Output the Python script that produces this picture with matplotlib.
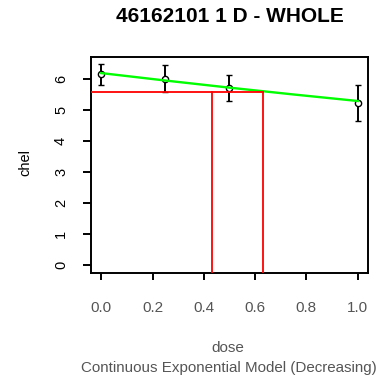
import matplotlib
matplotlib.use("Agg")
import matplotlib.pyplot as plt

plt.rcParams['font.family'] = ['Liberation Sans', 'DejaVu Sans']

# observed group means with confidence limits
dose = [0.0, 0.25, 0.5, 1.0]
mean_resp = [6.16, 6.02, 5.71, 5.25]
ci_half = [0.33, 0.43, 0.42, 0.58]

# fitted exponential model (decreasing)
model_dose = [0.0, 0.25, 0.5, 0.75, 1.0]
model_resp = [6.20, 5.96, 5.73, 5.51, 5.30]

# benchmark dose results
bmr_level = 5.6
bmd = 0.63
bmdl = 0.43

xticks = [0.0, 0.2, 0.4, 0.6, 0.8, 1.0]
xtick_labels = ["0.0", "0.2", "0.4", "0.6", "0.8", "1.0"]
yticks = [0, 1, 2, 3, 4, 5, 6]

W, H = 383, 377
fig = plt.figure(figsize=(W / 100, H / 100), dpi=100)
ax = fig.add_axes([0.2376, 0.275, 0.7232, 0.5746])

# R-style 4% padding around the data range
xlo, xhi = 0.0, 1.0
ylo, yhi = 0.0, 6.47
xpad = 0.04 * (xhi - xlo)
ypad = 0.04 * (yhi - ylo)
ax.set_xlim(xlo - xpad, xhi + xpad)
ax.set_ylim(ylo - ypad, yhi + ypad)

ax.errorbar(dose, mean_resp, yerr=ci_half, fmt='o', mfc='white', mec='black',
            ms=4.5, mew=1.0, ecolor='black', elinewidth=1.4, capsize=2.4,
            capthick=1.4, zorder=2)
ax.plot(model_dose, model_resp, color='#00ff00', lw=1.7, zorder=3)

x_left = xlo - xpad
y_bot = ylo - ypad
ax.plot([x_left, bmd], [bmr_level, bmr_level], color='red', lw=1.3, zorder=4)
ax.plot([bmdl, bmdl], [y_bot, bmr_level], color='red', lw=1.3, zorder=4)
ax.plot([bmd, bmd], [y_bot, bmr_level], color='red', lw=1.3, zorder=4)

for s in ax.spines.values():
    s.set_linewidth(1.4)

gray = '#555555'
ax.set_xticks(xticks)
ax.set_xticklabels(xtick_labels, fontsize=11, color=gray)
ax.set_yticks(yticks)
ax.set_yticklabels([str(v) for v in yticks], fontsize=10.5, rotation=90,
                   va='center', color='black')
ax.tick_params(axis='x', length=5, width=1.4, pad=15)
ax.tick_params(axis='y', length=5.5, width=1.4, pad=11)

fig.text(229.5 / W, 1 - 17 / H, "46162101 1 D - WHOLE", ha='center',
         va='center', fontsize=15, fontweight='bold')
fig.text(25 / W, 1 - 163 / H, "chel", ha='center', va='center',
         rotation=90, fontsize=10.5, color='black')
fig.text(228 / W, 1 - 348 / H, "dose", ha='center', va='center',
         fontsize=11, color=gray)
fig.text(229 / W, 1 - 368 / H, "Continuous Exponential Model (Decreasing)",
         ha='center', va='center', fontsize=10.9, color=gray)

fig.savefig("out.png", dpi=100)
